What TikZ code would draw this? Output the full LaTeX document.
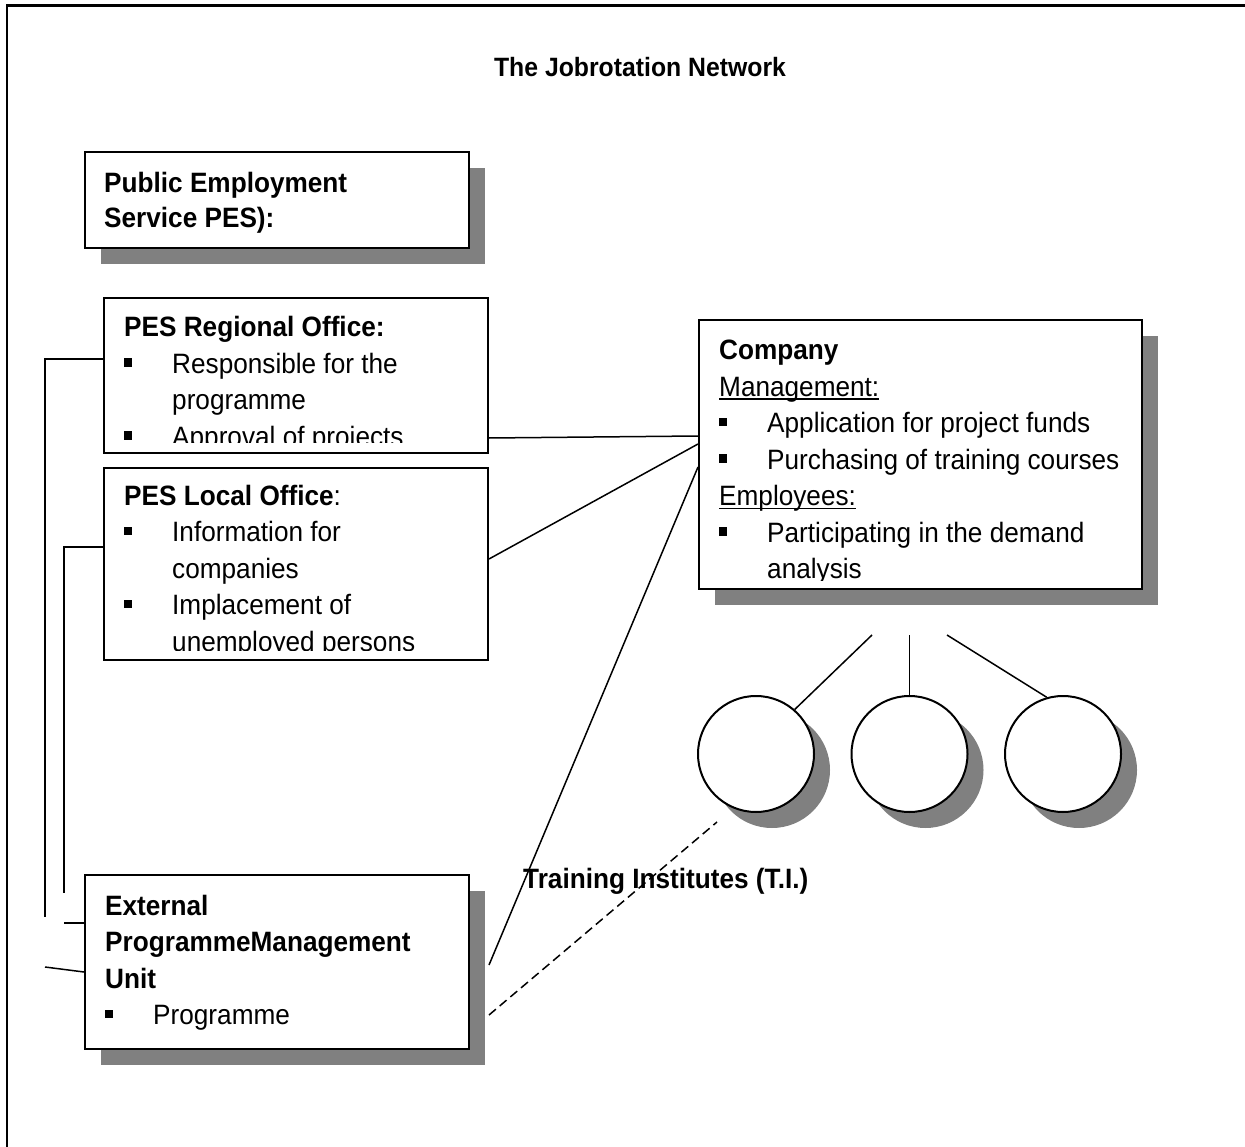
\documentclass[tikz,border=0pt]{standalone}
\usepackage{fontspec}
\setmainfont{Liberation Sans}[FakeStretch=0.935]
\usetikzlibrary{calc,shadows}
\definecolor{shadowgray}{HTML}{808080}
\newcommand\bodyfont{\fontsize{28pt}{36.5pt}\selectfont}
\newcommand\bsq{\makebox[48pt][l]{\raisebox{6.5pt}{\rule{8pt}{8.5pt}}}}
\newcommand\myul[1]{\setbox0\hbox{#1}\rlap{\rule[-3.5pt]{\wd0}{1.5pt}}#1}
\tikzset{
  box/.style={rectangle, draw=black, line width=2pt, fill=white, inner sep=0pt, anchor=north west},
  shadowed/.style={drop shadow={shadow xshift=16pt, shadow yshift=-16pt, fill=shadowgray, opacity=1}},
  conn/.style={draw=black, line width=1.5pt},
  dashconn/.style={conn, dash pattern=on 9pt off 5pt},
  ti/.style={circle, draw=black, line width=2pt, fill=white, minimum size=116pt, inner sep=0pt},
  txt/.style={anchor=base west, inner sep=0pt},
  frame/.style={draw=black, line width=2.5pt},
}
\begin{document}
\begin{tikzpicture}[x=1pt, y=-1pt]
\useasboundingbox (0,0) rectangle (1245,1147);
\draw[frame] (7,1147) -- (7,5.5) -- (1245,5.5);

\node[anchor=base, inner sep=0pt] (title) at (640,77) {\fontsize{26.5pt}{30pt}\selectfont\bfseries The Jobrotation Network};

% boxes
\node[box, shadowed, minimum width=384pt, minimum height=96pt] (pes) at (84,151) {};
\node[box, minimum width=384pt, minimum height=155pt] (reg) at (103,297) {};
\node[box, minimum width=384pt, minimum height=192pt] (loc) at (103,467) {};
\node[box, shadowed, minimum width=384pt, minimum height=174pt] (ext) at (84,874) {};
\node[box, shadowed, minimum width=443pt, minimum height=269pt] (comp) at (698,319) {};

% training institutes
\node[ti, shadowed] (ti1) at (756,754) {};
\node[ti, shadowed] (ti2) at (909.5,754) {};
\node[ti, shadowed] (ti3) at (1063,754) {};

% texts
\node[txt] (pestext) at ($(pes.north west)+(20,42)$) {\parbox[t]{360pt}{\fontsize{28pt}{35pt}\selectfont\bfseries Public Employment\\Service PES):}};

\begin{scope}
\clip ($(reg.north west)+(2,2)$) rectangle ($(reg.south east)+(-2,-12)$);
\node[txt] (regtext) at ($(reg.north west)+(21,40)$) {\parbox[t]{360pt}{\bodyfont
{\bfseries PES Regional Office:}\\
\bsq Responsible for the\\
\hspace*{48pt}programme\\
\bsq Approval of projects}};
\end{scope}

\begin{scope}
\clip ($(loc.north west)+(2,2)$) rectangle ($(loc.south east)+(-2,-11)$);
\node[txt] (loctext) at ($(loc.north west)+(21,38)$) {\parbox[t]{360pt}{\bodyfont
{\bfseries PES Local Office}:\\
\bsq Information for\\
\hspace*{48pt}companies\\
\bsq Implacement of\\
\hspace*{48pt}unemployed persons}};
\end{scope}

\begin{scope}
\clip ($(comp.north west)+(2,2)$) rectangle ($(comp.south east)+(-2,-10)$);
\node[txt] (comptext) at ($(comp.north west)+(21,41)$) {\parbox[t]{420pt}{\bodyfont
{\bfseries Company}\\
\myul{Management:}\\
\bsq Application for project funds\\
\bsq Purchasing of training courses\\
\myul{Employees:}\\
\bsq Participating in the demand\\
\hspace*{48pt}analysis}};
\end{scope}

\node[txt] (exttext) at ($(ext.north west)+(21,41)$) {\parbox[t]{360pt}{\bodyfont
{\bfseries External\\ProgrammeManagement\\Unit}\\
\bsq Programme}};

\node[txt] (tilabel) at (523,888) {\bodyfont\bfseries Training Institutes (T.I.)};

% free ends
\coordinate (regdrop) at (45,917);
\coordinate (locdrop) at (64,893);
\coordinate (extin1) at (64,923);
\coordinate (extin2) at (45,967);
\coordinate (tiend) at (717,822);
\coordinate (cb1) at (872,635);
\coordinate (cb2) at (909.5,635);
\coordinate (cb3) at (947,635);

% connectors
\draw[conn] ($(reg.north west)+(0,62)$) -| (regdrop);
\draw[conn] ($(loc.north west)+(0,80)$) -| (locdrop);
\draw[conn] (extin1) -- ($(ext.north west)+(0,49)$);
\draw[conn] (extin2) -- ($(ext.north west)+(0,98)$);
\draw[conn] ($(reg.south east)+(0,-16)$) -- ($(comp.north west)+(0,117)$);
\draw[conn] ($(loc.north east)+(0,92)$) -- ($(comp.north west)+(0,125)$);
\draw[conn] ($(ext.north east)+(19,91)$) -- ($(comp.north west)+(0,148)$);
\draw[dashconn] ($(ext.north east)+(19,141)$) -- (tiend);
\draw[conn] (cb1) -- (ti1.49);
\draw[conn] (cb2) -- (ti2.north);
\draw[conn] (cb3) -- (ti3.106);
\end{tikzpicture}
\end{document}
